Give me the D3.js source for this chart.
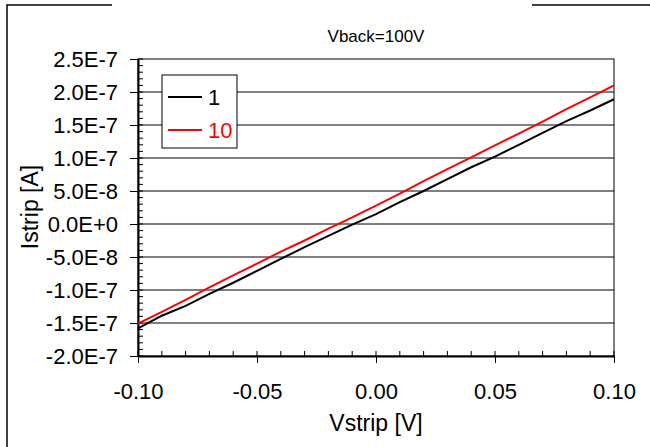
<!DOCTYPE html>
<html>
<head>
<meta charset="utf-8">
<script src="https://cdn.jsdelivr.net/npm/d3@7"></script>
<style>
  body { margin: 0; background: #fff; }
  text { font-family: "Liberation Sans", Arial, sans-serif; }
</style>
</head>
<body>
<svg width="650" height="447"></svg>
<script>
var vstrip = [-0.10, -0.09, -0.08, -0.07, -0.06, -0.05, -0.04, -0.03, -0.02, -0.01, 0.00,
  0.01, 0.02, 0.03, 0.04, 0.05, 0.06, 0.07, 0.08, 0.09, 0.10]
var istrip1 = [-1.58e-7, -1.39e-7, -1.24e-7, -1.06e-7, -8.9e-8, -7.1e-8, -5.3e-8, -3.5e-8, -1.8e-8, -1e-9, 1.5e-8,
  3.3e-8, 5.0e-8, 6.8e-8, 8.6e-8, 1.02e-7, 1.20e-7, 1.38e-7, 1.56e-7, 1.72e-7, 1.89e-7]
var istrip10 = [-1.51e-7, -1.33e-7, -1.15e-7, -9.6e-8, -7.8e-8, -6.0e-8, -4.2e-8, -2.5e-8, -7e-9, 1.0e-8, 2.8e-8,
  4.6e-8, 6.5e-8, 8.3e-8, 1.01e-7, 1.19e-7, 1.37e-7, 1.55e-7, 1.74e-7, 1.92e-7, 2.10e-7]
var seriesNames = ['1', '10']
var yTicks = [2.5e-7, 2.0e-7, 1.5e-7, 1.0e-7, 5.0e-8, 0, -5.0e-8, -1.0e-7, -1.5e-7, -2.0e-7]
var yTickLabels = ['2.5E-7', '2.0E-7', '1.5E-7', '1.0E-7', '5.0E-8', '0.0E+0', '-5.0E-8', '-1.0E-7', '-1.5E-7', '-2.0E-7']
var xTicks = [-0.10, -0.05, 0.00, 0.05, 0.10]
var xTickLabels = ['-0.10', '-0.05', '0.00', '0.05', '0.10']

var svg = d3.select('svg')
var m = { left: 138, right: 614, top: 59, bottom: 356 }

var x = d3.scaleLinear().domain([-0.1, 0.1]).range([m.left, m.right])
var y = d3.scaleLinear().domain([-2.0e-7, 2.5e-7]).range([m.bottom, m.top])

svg.append('rect').attr('width', 650).attr('height', 447).attr('fill', '#fff')

// outer frame (open at right / bottom, gap for title)
svg.append('path')
  .attr('d', 'M7,447V5H112M532,5H650')
  .attr('fill', 'none').attr('stroke', '#000').attr('stroke-width', 1.5)

// grid
svg.append('g').selectAll('line')
  .data(yTicks.slice(1, -1))
  .enter().append('line')
  .attr('x1', m.left).attr('x2', m.right)
  .attr('y1', (d) => y(d)).attr('y2', (d) => y(d))
  .attr('stroke', '#000').attr('stroke-width', 1)

// plot frame
svg.append('rect')
  .attr('x', m.left).attr('y', m.top)
  .attr('width', m.right - m.left).attr('height', m.bottom - m.top)
  .attr('fill', 'none').attr('stroke', '#000').attr('stroke-width', 1)

// minor ticks
var yMinor = d3.range(-20, 25.01, 1).map((d) => d * 1e-8)
svg.append('g').selectAll('line')
  .data(yMinor)
  .enter().append('line')
  .attr('x1', m.left).attr('x2', m.left + 5)
  .attr('y1', (d) => y(d)).attr('y2', (d) => y(d))
  .attr('stroke', '#000').attr('stroke-width', 1)
var xMinor = d3.range(-10, 10.01, 1).map((d) => d / 100)
svg.append('g').selectAll('line')
  .data(xMinor)
  .enter().append('line')
  .attr('x1', (d) => x(d)).attr('x2', (d) => x(d))
  .attr('y1', m.bottom).attr('y2', m.bottom - 5)
  .attr('stroke', '#000').attr('stroke-width', 1)

// axes
var yAxis = svg.append('g')
  .attr('transform', 'translate(' + m.left + ',0)')
  .call(d3.axisLeft(y).tickValues(yTicks)
    .tickFormat((d, i) => yTickLabels[i]).tickSizeInner(8).tickSizeOuter(0).tickPadding(12))
yAxis.select('.domain').attr('stroke-width', 2)
yAxis.selectAll('text').attr('font-size', 22).attr('fill', '#000')

var xAxis = svg.append('g')
  .attr('transform', 'translate(0,' + m.bottom + ')')
  .call(d3.axisBottom(x).tickValues(xTicks)
    .tickFormat((d, i) => xTickLabels[i]).tickSizeInner(7).tickSizeOuter(0).tickPadding(20))
xAxis.select('.domain').attr('stroke-width', 2)
xAxis.selectAll('text').attr('font-size', 22).attr('fill', '#000')

// lines
var line = d3.line()
  .x((d) => x(d[0]))
  .y((d) => y(d[1]))

var series = [
  { name: seriesNames[0], color: '#000', pts: d3.zip(vstrip, istrip1) },
  { name: seriesNames[1], color: '#ff0000', pts: d3.zip(vstrip, istrip10) }
]

svg.append('g').selectAll('path')
  .data(series)
  .enter().append('path')
  .attr('d', (d) => line(d.pts))
  .attr('fill', 'none')
  .attr('stroke', (d) => d.color)
  .attr('stroke-width', 2)

// legend
var lg = svg.append('g')
lg.append('rect')
  .attr('x', 162).attr('y', 75).attr('width', 75).attr('height', 73)
  .attr('fill', '#fff').attr('stroke', '#000').attr('stroke-width', 1)
var items = lg.selectAll('g')
  .data(series)
  .enter().append('g')
  .attr('transform', (d, i) => 'translate(168,' + (97 + i * 33) + ')')
items.append('line')
  .attr('x1', 0).attr('x2', 34)
  .attr('stroke', (d) => d.color).attr('stroke-width', 2)
items.append('text')
  .attr('x', 40).attr('y', 8)
  .attr('font-size', 22)
  .attr('fill', (d) => d.color)
  .text((d) => d.name)

// titles
svg.append('text')
  .attr('x', 376).attr('y', 42)
  .attr('text-anchor', 'middle').attr('font-size', 17)
  .text('Vback=100V')
svg.append('text')
  .attr('x', 376).attr('y', 431)
  .attr('text-anchor', 'middle').attr('font-size', 23)
  .text('Vstrip [V]')
svg.append('text')
  .attr('transform', 'translate(38,207) rotate(-90)')
  .attr('text-anchor', 'middle').attr('font-size', 23)
  .text('Istrip [A]')
</script>
</body>
</html>
